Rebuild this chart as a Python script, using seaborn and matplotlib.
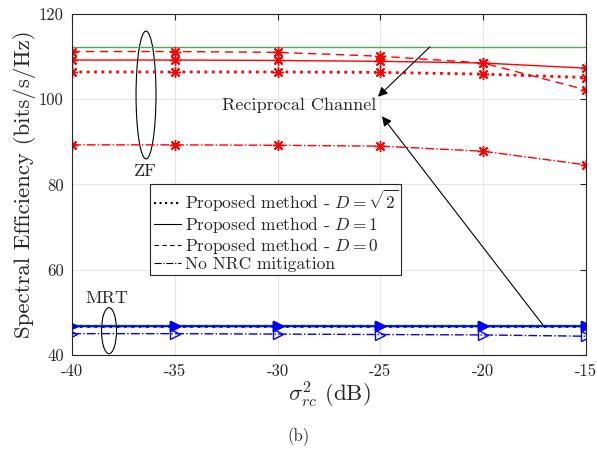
import numpy as np
import pandas as pd
import seaborn as sns
import matplotlib.pyplot as plt
from matplotlib.patches import Ellipse
from matplotlib.lines import Line2D

# data
x = [-40, -35, -30, -25, -20, -15]
zf_recip = [112.3] * 6
zf_sqrt2 = [106.4, 106.4, 106.4, 106.3, 105.9, 105.1]
zf_d1 = [109.2, 109.2, 109.1, 108.9, 108.5, 107.3]
zf_d0 = [111.2, 111.2, 111.0, 110.1, 108.5, 102.2]
zf_nonrc = [89.3, 89.3, 89.2, 89.0, 87.8, 84.6]
mrt_recip = [47.0] * 6
mrt_sqrt2 = [46.9] * 6
mrt_d1 = [46.9] * 6
mrt_d0 = [46.9] * 6
mrt_nonrc = [45.0, 45.0, 44.9, 44.8, 44.7, 44.4]
xticks = [-40, -35, -30, -25, -20, -15]
yticks = [40, 60, 80, 100, 120]

sns.set_style("whitegrid")
plt.rcParams['font.family'] = 'serif'
plt.rcParams['font.serif'] = ['cmr10', 'DejaVu Serif']
plt.rcParams['mathtext.fontset'] = 'cm'
plt.rcParams['axes.unicode_minus'] = False

fig = plt.figure(figsize=(5.97, 4.49), dpi=100)
ax = fig.add_axes([0.1206, 0.2094, 0.861, 0.7594])

red = '#ff0000'
blue = '#0000ff'
star = (8, 2, 0)

sns.lineplot(x=x, y=zf_recip, ax=ax, color='#4daf4a', lw=1.0)
sns.lineplot(x=x, y=mrt_recip, ax=ax, color='#008000', lw=1.0)

def series(y, ls, color, marker, mfc, lw=1.0, ms=8):
    sns.lineplot(x=x, y=y, ax=ax, color=color, lw=lw, linestyle=ls,
                 marker=marker, markersize=ms, markerfacecolor=mfc,
                 markeredgecolor=color, markeredgewidth=1.0)

series(zf_sqrt2, ':', red, star, red, lw=2.0)
series(zf_d1, '-', red, star, red)
series(zf_d0, (0, (6, 4)), red, star, red)
series(zf_nonrc, '-.', red, star, red)
series(mrt_sqrt2, ':', blue, '>', blue, lw=2.0, ms=7)
series(mrt_d1, '-', blue, '>', blue, ms=7)
series(mrt_d0, (0, (6, 4)), blue, '>', blue, ms=7)
series(mrt_nonrc, '-.', blue, '>', 'none', ms=7)

ax.set_xlim(-40, -15)
ax.set_ylim(40, 120)
ax.set_xticks(xticks)
ax.set_xticklabels([str(v) for v in xticks])
ax.set_yticks(yticks)
ax.set_yticklabels([str(v) for v in yticks])
ax.tick_params(direction='in', top=True, right=True, length=4, labelsize=12,
               colors='#262626', pad=6)
ax.grid(True, color='#e6e6e6', lw=0.8)
for s in ax.spines.values():
    s.set_color('#262626')
    s.set_linewidth(0.8)

ax.set_ylabel('Spectral Efficiency (bits/s/Hz)', fontsize=16.5, labelpad=2)
ax.set_xlabel(r'$\sigma^2_{rc}$ (dB)', fontsize=16.5, labelpad=1)
fig.text(0.5, 0.028, '(b)', ha='center', va='center', fontsize=12)

# ellipses and annotations
ax.add_patch(Ellipse((-36.4, 101.0), 0.97, 30.0, fill=False, ec='k', lw=0.8))
ax.text(-36.45, 83.0, 'ZF', ha='center', va='center', fontsize=13)
ax.add_patch(Ellipse((-38.2, 45.7), 0.73, 10.8, fill=False, ec='k', lw=0.8))
ax.text(-38.3, 53.4, 'MRT', ha='center', va='center', fontsize=13)
ax.text(-25.2, 98.5, 'Reciprocal Channel', ha='right', va='center', fontsize=13)
ax.annotate('', xy=(-25.12, 100.6), xytext=(-22.59, 112.3),
            arrowprops=dict(arrowstyle='-|>', color='k', lw=0.8, mutation_scale=14,
                            shrinkA=0, shrinkB=0))
ax.annotate('', xy=(-24.92, 96.0), xytext=(-17.09, 47.0),
            arrowprops=dict(arrowstyle='-|>', color='k', lw=0.8, mutation_scale=14,
                            shrinkA=0, shrinkB=0))

handles = [Line2D([], [], color='k', ls=':', lw=1.5),
           Line2D([], [], color='k', ls='-', lw=0.8),
           Line2D([], [], color='k', ls=(0, (4, 3)), lw=0.8),
           Line2D([], [], color='k', ls='-.', lw=0.8)]
labels = [r'Proposed method - $D=\sqrt{2}$', r'Proposed method - $D=1$',
          r'Proposed method - $D=0$', 'No NRC mitigation']
leg = ax.legend(handles, labels, loc='upper left', bbox_to_anchor=(0.152, 0.5),
                fontsize=12.5, frameon=True, fancybox=False, handlelength=1.6,
                handletextpad=0.2, borderpad=0.2, labelspacing=0.05, borderaxespad=0)
leg.get_frame().set_edgecolor('#262626')
leg.get_frame().set_linewidth(0.8)
leg.get_frame().set_alpha(1)

fig.savefig('out.png', dpi=100)
